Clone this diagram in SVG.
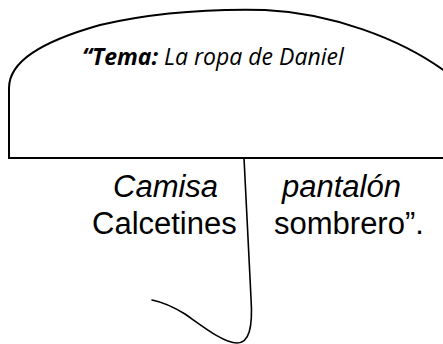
<svg xmlns="http://www.w3.org/2000/svg" width="443" height="344" viewBox="0 0 443 344">
<style>
.ln{fill:none;stroke:#000;stroke-linecap:round;stroke-linejoin:round}
.t1{font-family:"Open Sans","Noto Sans",sans-serif;font-size:23px;font-style:italic;fill:#000}
.t2{font-family:"Liberation Sans",Arial,sans-serif;font-size:31px;fill:#000}
</style>
<rect width="443" height="344" fill="#fff"/>
<g id="bubble">
<path class="ln" stroke-width="2" d="M9,158 V88 C9,62 40,42 100,25 C160,11 220,9 265,10 C330,13 400,38 446,72"/>
<line class="ln" stroke-width="2" x1="9" y1="158" x2="443" y2="158"/>
<text class="t1" x="82" y="65"><tspan font-weight="bold">“Tema:</tspan> La ropa de Daniel</text>
</g>
<g id="connectors">
<path class="ln" stroke-width="1.6" d="M244,158 L251,298 C253,328 249,343 237,343 C224,343 205,328 185,314 C172,306 162,302 152,300"/>
</g>
<g id="left-items">
<text class="t2" x="113" y="197" font-style="italic">Camisa</text>
<text class="t2" x="92" y="234">Calcetines</text>
</g>
<g id="right-items">
<text class="t2" x="282" y="197" font-style="italic">pantalón</text>
<text class="t2" x="274" y="234">sombrero”.</text>
</g>
</svg>
